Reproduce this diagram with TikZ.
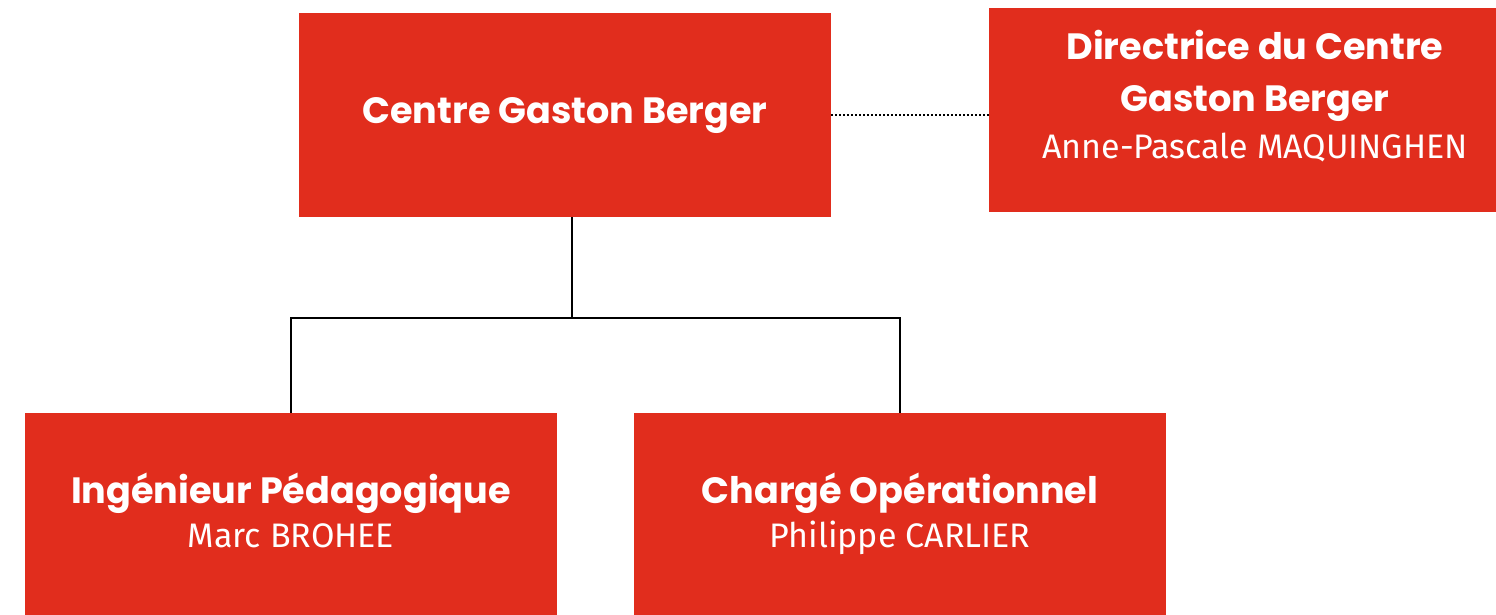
\documentclass[tikz,border=0pt]{standalone}
\usepackage{fontspec}
\setmainfont{Fira Sans}
\newfontfamily\titlefont{Poppins}
\newfontfamily\namefont{Fira Sans}
\definecolor{cgbred}{RGB}{225,45,29}
\newcommand\staffname[1]{{\namefont\mdseries\fontsize{34}{52}\selectfont #1}}

\begin{document}
\begin{tikzpicture}[x=1pt,y=-1pt]
\tikzstyle{every node}=[text=white, align=center]
\tikzstyle{unit}=[fill=cgbred, minimum width=532pt, minimum height=204pt, inner sep=0pt, text depth=10pt]
\tikzstyle{title}=[font=\titlefont\bfseries\fontsize{36.6}{52}\selectfont]

% page frame, the right and lower boxes run past it
\useasboundingbox (0,0) rectangle (1496,615);

% boxes of the chart
\node[unit, title, text height=38pt, text depth=20pt] (cgb) at (565,115) {Centre Gaston Berger};
\node[unit, title, text height=106pt] (dir) at (1255,110) {Directrice du Centre\\Gaston Berger\\[-5pt]
	\staffname{Anne-Pascale MAQUINGHEN}};
\node[unit, title, text height=74pt] (ing) at (291,515) {Ingénieur Pédagogique\\[-8pt]
	\staffname{Marc BROHEE}};
\node[unit, title, text height=74pt] (ops) at (900,515) {Chargé Opérationnel\\[-8pt]
	\staffname{Philippe CARLIER}};

% dotted link to the director
\draw[line width=2pt, dash pattern=on 2pt off 2pt] (cgb.east) -- (cgb.east -| dir.west);

% tree down to the two staff
\coordinate (fork) at (572,318);
\draw[line width=1.6pt] (cgb.south -| fork) -- (fork);
\draw[line width=1.6pt] (ing.north) |- (fork) -| (ops.north);

\end{tikzpicture}
\end{document}
